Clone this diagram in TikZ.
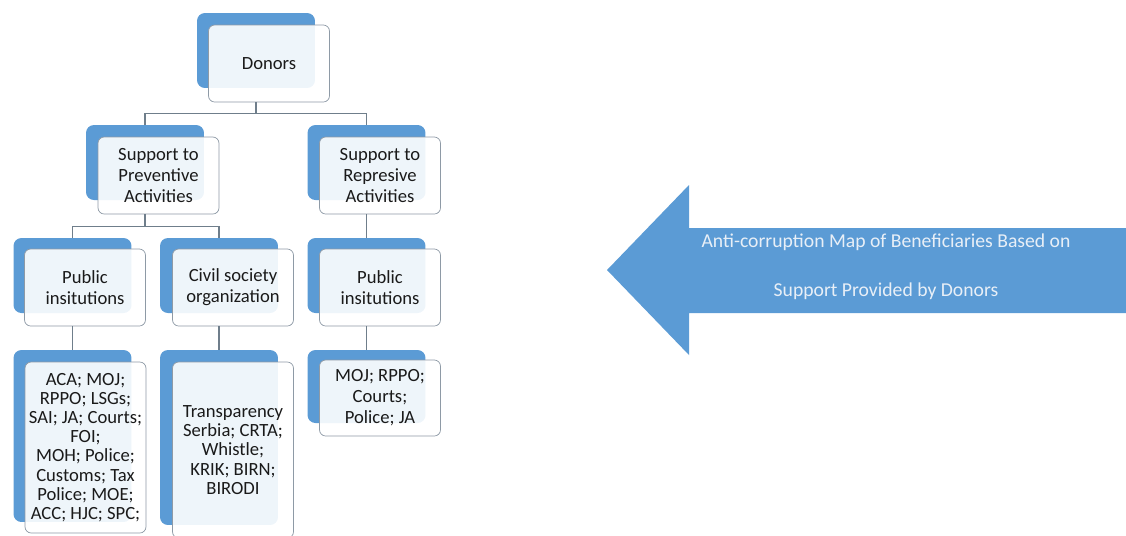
\documentclass[tikz,border=0pt]{standalone}
\usepackage{fontspec}
\setmainfont{Carlito}
\usepackage{tikz}
\usetikzlibrary{positioning,calc}
\definecolor{office}{HTML}{5B9BD5}
\definecolor{rim}{HTML}{8E9AA6}
\definecolor{ink}{HTML}{1A1A1A}
\definecolor{wire}{HTML}{6F7E8B}
\definecolor{paper}{HTML}{E8EFF7}

\begin{document}
\begin{tikzpicture}[
  x=0.02cm,y=-0.02cm,
  back/.style={fill=office,rounded corners=4.5pt,minimum width=2.36cm,minimum height=1.5cm,inner sep=0pt},
  card/.style={draw=rim,fill=white,fill opacity=0.9,text opacity=1,rounded corners=3.5pt,
    minimum width=2.42cm,minimum height=1.54cm,inner sep=0pt,align=center,text=ink,
    font=\fontsize{10.6}{11.9}\selectfont},
  list/.style={card,font=\fontsize{10.6}{10.9}\selectfont},
  link/.style={draw=wire,line width=0.6pt}]
  \useasboundingbox (0,0) rectangle (1126,535);
  % top
  \node[back] (donbk) at (256,50.5) {};
  \node[card] (don) at (269,63.5) {Donors};
  % second row
  \node[back] (prevbk) at (145,162.5) {};
  \node[card] (prev) at (158.5,175.5) {Support to\\Preventive\\Activities};
  \node[back] (repbk) at (366.5,162.5) {};
  \node[card] (rep) at (380,175.5) {Support to\\Represive\\Activities};
  % third row
  \node[back] (pubabk) at (72.5,275.5) {};
  \node[card] (puba) at (85,287.5) {Public\\insitutions};
  \node[back] (civbk) at (219,275.5) {};
  \node[card] (civ) at (233,287.5) {Civil society\\organization};
  \node[back] (pubbbk) at (366.5,275.5) {};
  \node[card] (pubb) at (380,287.5) {Public\\insitutions};
  % lists
  \node[back,minimum height=3.44cm] (acabk) at (72.5,436) {};
  \node[list,minimum height=3.42cm] (aca) at (85.5,447.5)
    {ACA; MOJ;\\RPPO; LSGs;\\SAI; JA; Courts;\\FOI;\\MOH; Police;\\Customs; Tax\\Police; MOE;\\ACC; HJC; SPC;};
  \node[back,minimum height=3.5cm] (trbk) at (219,437.5) {};
  \node[list,minimum height=3.52cm] (tr) at (233,450)
    {Transparency\\Serbia; CRTA;\\Whistle;\\KRIK; BIRN;\\BIRODI};
  \node[back,minimum height=1.46cm] (mojbk) at (366.5,386.5) {};
  \node[card,minimum height=1.52cm] (moj) at (380,398) {MOJ; RPPO;\\Courts;\\Police; JA};
  % connectors
  \draw[link] (donbk |- don.south) -- ++(0,11.5) -| (prevbk.north);
  \draw[link] (donbk |- don.south) -- ++(0,11.5) -| (repbk.north);
  \draw[link] (prevbk |- prev.south) -- ++(0,12) -| (pubabk.north);
  \draw[link] (prevbk |- prev.south) -- ++(0,12) -| (civbk.north);
  \draw[link] (repbk |- rep.south) -- (pubbbk.north);
  \draw[link] (pubabk |- puba.south) -- (acabk.north);
  \draw[link] (civbk |- civ.south) -- (trbk.north);
  \draw[link] (pubbbk |- pubb.south) -- (mojbk.north);
  % big arrow
  \fill[office] (607,270) -- (689,185) -- (689,228) -- (1130,228) -- (1130,313)
    -- (689,313) -- (689,355) -- cycle;
  \node[align=center,text=paper,font=\fontsize{11.2}{28}\selectfont] (maptext) at (886,267)
    {Anti-corruption Map of Beneficiaries Based on\\Support Provided by Donors};
\end{tikzpicture}
\end{document}
